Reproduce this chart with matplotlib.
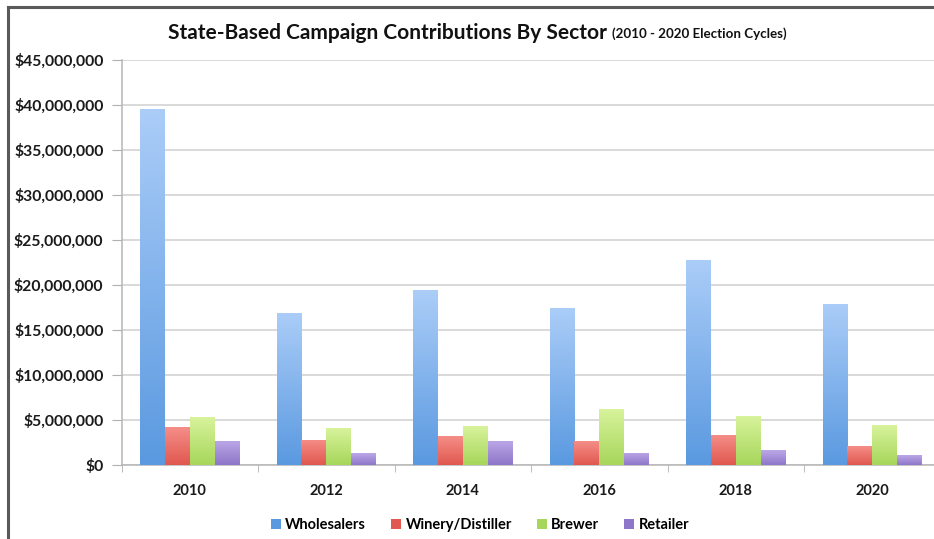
import numpy as np
import matplotlib.pyplot as plt
from matplotlib.colors import LinearSegmentedColormap
from matplotlib.patches import Patch
from matplotlib.ticker import FuncFormatter

plt.rcParams['font.family'] = ['Lato', 'DejaVu Sans']

years = ['2010', '2012', '2014', '2016', '2018', '2020']
sectors = ['Wholesalers', 'Winery/Distiller', 'Brewer', 'Retailer']

wholesalers = [39.5e6, 16.9e6, 19.4e6, 17.4e6, 22.8e6, 17.9e6]
winery = [4.2e6, 2.8e6, 3.2e6, 2.65e6, 3.3e6, 2.1e6]
brewer = [5.3e6, 4.1e6, 4.3e6, 6.2e6, 5.4e6, 4.4e6]
retailer = [2.7e6, 1.3e6, 2.7e6, 1.35e6, 1.65e6, 1.07e6]

# (top, bottom) shades for each series gradient
shades = [('#abcdf8', '#5a99e0'),
          ('#f58e88', '#e0584f'),
          ('#d8f39c', '#a6d65a'),
          ('#bca8e8', '#8e76c8')]

fig = plt.figure(figsize=(9.34, 5.39), dpi=100)
ax = fig.add_axes([121.5 / 934, 74 / 539, 819 / 934, 405.5 / 539])

# outer frame, only top and left edges fall inside the image
fig.add_artist(plt.Line2D([8 / 934, 1], [1 - 7 / 539] * 2, color='#5a5a5a', lw=2.2))
fig.add_artist(plt.Line2D([8 / 934] * 2, [0, 1 - 7 / 539], color='#5a5a5a', lw=2.2))

x = np.arange(len(years))
w = 0.182
series = [wholesalers, winery, brewer, retailer]
grad = np.linspace(0, 1, 256).reshape(-1, 1)

for k, (vals, (top, bot)) in enumerate(zip(series, shades)):
    bars = ax.bar(x + (k - 1.5) * w, vals, w, color=bot, zorder=2, linewidth=0)
    cmap = LinearSegmentedColormap.from_list('s%d' % k, [bot, top])
    for b in bars:
        x0, y0 = b.get_x(), b.get_y()
        im = ax.imshow(grad, cmap=cmap, origin='lower', aspect='auto',
                       extent=[x0, x0 + b.get_width(), y0, y0 + b.get_height()],
                       zorder=3, interpolation='bilinear')
        im.set_clip_path(b)

ax.set_xlim(-0.5, len(years) - 0.5)
ax.set_ylim(0, 45e6)
ax.set_yticks(np.arange(0, 45e6 + 1, 5e6))
ax.yaxis.set_major_formatter(FuncFormatter(lambda v, p: '${:,.0f}'.format(v)))
ax.grid(axis='y', color='#cfcfcf', lw=1.1, zorder=0)

ax.set_xticks(x)
ax.set_xticklabels(years)
ax.set_xticks(np.arange(-0.5, len(years)), minor=True)
ax.tick_params(axis='x', which='major', length=0, pad=14)
ax.tick_params(axis='x', which='minor', length=5, color='#b0b0b0', direction='out')
ax.tick_params(axis='y', length=7, color='#b0b0b0', pad=6)
for lbl in ax.get_xticklabels():
    lbl.set_fontweight('bold')
    lbl.set_fontsize(10.5)
    lbl.set_color('#1a1a1a')
for lbl in ax.get_yticklabels():
    lbl.set_fontweight('bold')
    lbl.set_fontsize(11.3)
    lbl.set_color('#1a1a1a')

for s in ['top', 'right']:
    ax.spines[s].set_visible(False)
for s in ['left', 'bottom']:
    ax.spines[s].set_color('#b5b5b5')
    ax.spines[s].set_linewidth(1.1)

fig.text(168 / 934, 1 - 33 / 539, 'State-Based Campaign Contributions By Sector',
         fontsize=15, fontweight='bold', va='center', ha='left', color='#111111')
fig.text(612 / 934, 1 - 34 / 539, '(2010 - 2020 Election Cycles)',
         fontsize=9.6, fontweight='bold', va='center', ha='left', color='#111111')

handles = [Patch(facecolor=bot, edgecolor='none') for top, bot in shades]
leg = fig.legend(handles, sectors, loc='center', bbox_to_anchor=(480 / 934, 1 - 525 / 539),
                 ncol=4, frameon=False, handlelength=0.7, handleheight=0.7,
                 handletextpad=0.3, columnspacing=1.7, prop={'weight': 'bold', 'size': 10.5})

fig.savefig('out.png', dpi=100)
